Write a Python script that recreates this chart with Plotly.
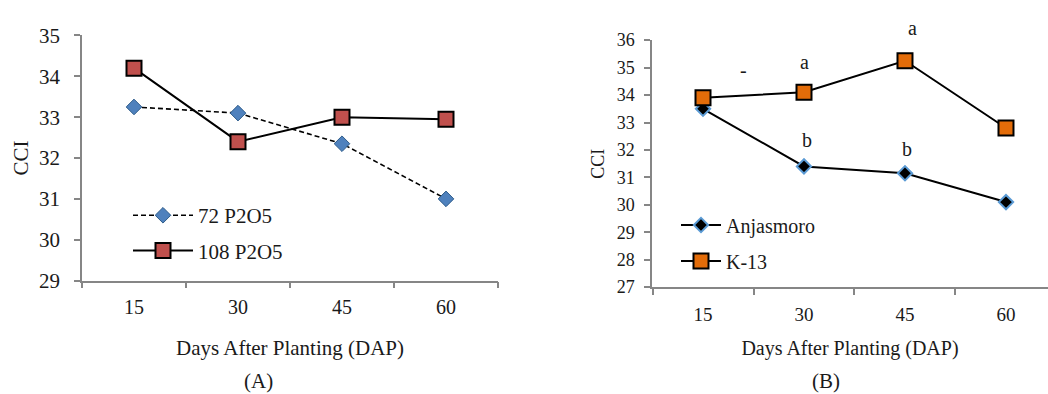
import plotly.graph_objects as go

days = ["15", "30", "45", "60"]

# Panel A
p72 = [33.25, 33.1, 32.35, 31.0]
p108 = [34.2, 32.4, 33.0, 32.95]

# Panel B
anjasmoro = [33.5, 31.4, 31.15, 30.1]
k13 = [33.9, 34.1, 35.25, 32.8]

# significance letters (panel B)
letter_text = ["-", "a", "a", "b", "b"]
letter_x = [0.4, 1.0, 2.07, 1.03, 2.02]
letter_y = [34.92, 35.22, 36.0, 32.36, 32.05]
letter_shift = [0, 0, 12, 0, 0]

FONT = "Liberation Serif"
TXT = "#1a1a1a"
AX = "#868686"

fig = go.Figure()

fig.add_trace(go.Scatter(
    x=days, y=p72, name="72 P2O5", mode="lines+markers",
    line=dict(color="black", width=1.6, dash="5px,3px"),
    marker=dict(symbol="diamond", size=12, color="#4F81BD", line=dict(color="#2E5C8A", width=1)),
    xaxis="x", yaxis="y", legend="legend", legendgroup="a1"))
fig.add_trace(go.Scatter(
    x=days, y=p108, name="108 P2O5", mode="lines+markers",
    line=dict(color="black", width=2),
    marker=dict(symbol="square", size=15, color="#C0504D", line=dict(color="black", width=2)),
    xaxis="x", yaxis="y", legend="legend", legendgroup="a2"))

fig.add_trace(go.Scatter(
    x=days, y=anjasmoro, name="Anjasmoro", mode="lines+markers",
    line=dict(color="black", width=2),
    marker=dict(symbol="diamond", size=11, color="black", line=dict(color="#5B9BD5", width=2)),
    xaxis="x2", yaxis="y2", legend="legend2", legendgroup="b1"))
fig.add_trace(go.Scatter(
    x=days, y=k13, name="K-13", mode="lines+markers",
    line=dict(color="black", width=2),
    marker=dict(symbol="square", size=15, color="#E36C09", line=dict(color="black", width=2)),
    xaxis="x2", yaxis="y2", legend="legend2", legendgroup="b2"))

W, H = 1048, 394
def px(v):
    return v / W
def py(v):
    return (H - v) / H

def axis_style(size, standoff):
    return dict(showline=True, linecolor=AX, linewidth=1.5, ticks="outside",
                tickcolor=AX, ticklen=6, tickwidth=1.5, showgrid=False, zeroline=False,
                ticklabelstandoff=standoff,
                tickfont=dict(family=FONT, size=size, color=TXT))

fig.update_layout(
    width=W, height=H, margin=dict(l=0, r=0, t=0, b=0),
    paper_bgcolor="white", plot_bgcolor="white",
    font=dict(family=FONT, color=TXT),
    xaxis=dict(domain=[px(82), px(498)], type="category", range=[-0.5, 3.5],
               tickson="boundaries", anchor="y",
               title=dict(text="Days After Planting (DAP)", font=dict(size=21, family=FONT, color=TXT), standoff=23),
               **axis_style(20, 8)),
    yaxis=dict(domain=[py(286), py(25)], range=[29, 35], dtick=1, anchor="x",
               title=dict(text="CCI", font=dict(size=21, family=FONT, color=TXT), standoff=5),
               **axis_style(21, 10)),
    xaxis2=dict(domain=[px(652), 1.0], type="category", range=[-0.505, 3.416],
                tickson="boundaries", anchor="y2",
                title=dict(text="Days After Planting (DAP)", font=dict(size=20, family=FONT, color=TXT), standoff=17),
                **axis_style(19, 9)),
    yaxis2=dict(domain=[py(293), py(30)], range=[27, 36], dtick=1, anchor="x2",
                title=dict(text="CCI", font=dict(size=18, family=FONT, color=TXT), standoff=7),
                **axis_style(18, 6)),
    legend=dict(x=px(128), y=py(195), xanchor="left", yanchor="top",
                bgcolor="rgba(0,0,0,0)", font=dict(family=FONT, size=21, color=TXT),
                tracegroupgap=5, itemwidth=60),
    legend2=dict(x=px(676), y=py(206), xanchor="left", yanchor="top",
                 bgcolor="rgba(0,0,0,0)", font=dict(family=FONT, size=20, color=TXT),
                 tracegroupgap=7, itemwidth=40),
    showlegend=True,
)

for t, xv, yv, ys in zip(letter_text, letter_x, letter_y, letter_shift):
    fig.add_annotation(x=xv, y=yv, xref="x2", yref="y2", text=t, showarrow=False,
                       yanchor="middle", yshift=ys,
                       font=dict(family=FONT, size=20, color=TXT))

fig.add_annotation(x=px(258), y=py(383), xref="paper", yref="paper", text="(A)", showarrow=False,
                   xanchor="center", yanchor="middle", yshift=-9,
                   font=dict(family=FONT, size=21, color=TXT))
fig.add_annotation(x=px(826), y=py(383), xref="paper", yref="paper", text="(B)", showarrow=False,
                   xanchor="center", yanchor="middle", yshift=-9,
                   font=dict(family=FONT, size=21, color=TXT))

fig.write_html("out.html")
